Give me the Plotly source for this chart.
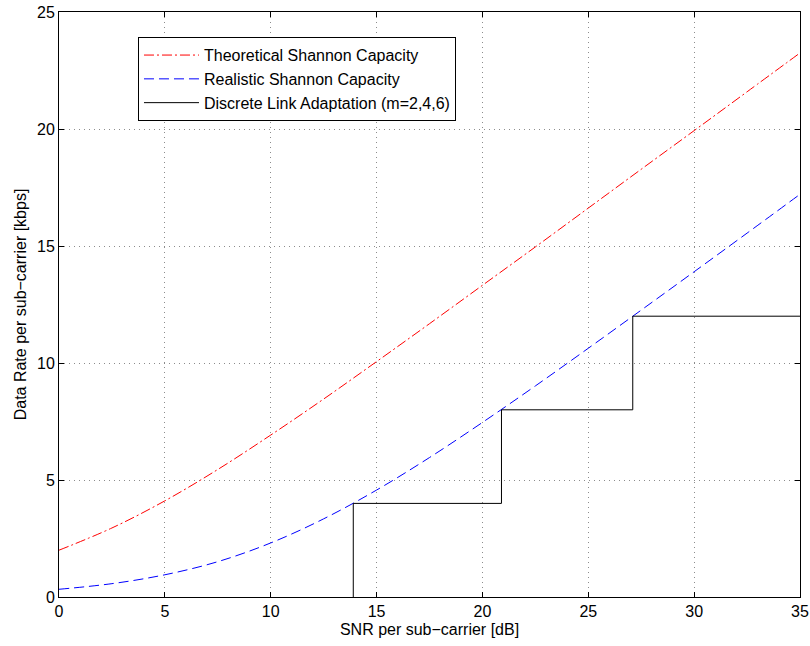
import plotly.graph_objects as go

snr = [0, 2.5, 5, 7.5, 10, 12.5, 15, 17.5, 20, 22.5, 25, 27.5, 30, 32.5, 35]
theoretical = [2.0, 2.95, 4.11, 5.45, 6.92, 8.46, 10.06, 11.68, 13.32, 14.96, 16.62, 18.28, 19.93, 21.59, 23.25]
realistic = [0.33, 0.57, 0.95, 1.51, 2.31, 3.34, 4.57, 5.96, 7.46, 9.02, 10.63, 12.26, 13.90, 15.55, 17.21]

step_x = [13.9, 13.9, 20.9, 20.9, 27.1, 27.1, 35]
step_y = [0, 4, 4, 8, 8, 12, 12]

x_ticks = [0, 5, 10, 15, 20, 25, 30, 35]
y_ticks = [0, 5, 10, 15, 20, 25]

fig = go.Figure()
fig.add_trace(go.Scatter(x=snr, y=theoretical, mode="lines", line_shape="spline",
                         name="Theoretical Shannon Capacity",
                         line=dict(color="red", width=1, dash="10px,3px,2px,3px")))
fig.add_trace(go.Scatter(x=snr, y=realistic, mode="lines", line_shape="spline",
                         name="Realistic Shannon Capacity",
                         line=dict(color="blue", width=1, dash="10px,5px")))
fig.add_trace(go.Scatter(x=step_x, y=step_y, mode="lines",
                         name="Discrete Link Adaptation (m=2,4,6)",
                         line=dict(color="black", width=1)))

axis_common = dict(showline=True, linecolor="black", linewidth=1, mirror="ticks",
                   ticks="inside", ticklen=5, tickcolor="black",
                   showgrid=True, gridcolor="#8c8c8c", griddash="1px,4px", gridwidth=1,
                   zeroline=False, automargin=False, ticklabeloverflow="allow",
                   tickfont=dict(size=16, color="black"))

fig.update_xaxes(range=[0, 35], tickvals=x_ticks,
                 title=dict(text="SNR per sub\u2212carrier [dB]", font=dict(size=16, color="black"), standoff=4),
                 **axis_common)
fig.update_yaxes(range=[0, 25], tickvals=y_ticks,
                 title=dict(text="Data Rate per sub\u2212carrier [kbps]", font=dict(size=16, color="black"), standoff=6),
                 **axis_common)

fig.update_layout(
    width=810, height=646,
    margin=dict(l=59, r=10, t=12, b=49),
    paper_bgcolor="white", plot_bgcolor="white",
    font=dict(family="Liberation Sans, Arial, sans-serif", color="black"),
    legend=dict(x=0.1066, y=0.957, xanchor="left", yanchor="top",
                bgcolor="white", bordercolor="black", borderwidth=1,
                font=dict(size=16, color="black"), tracegroupgap=0,
                itemwidth=55),
    showlegend=True,
)

fig.write_html("out.html", config={"displayModeBar": False},
               post_script="document.body.style.margin='0';document.body.style.overflow='hidden';")
